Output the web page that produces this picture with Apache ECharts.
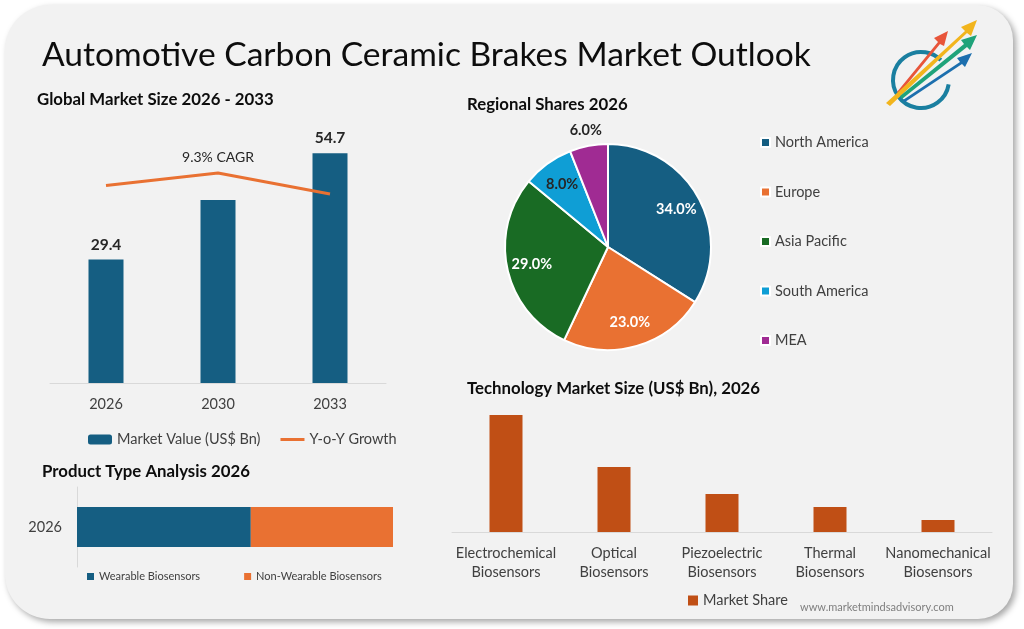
<!DOCTYPE html>
<html>
<head>
<meta charset="utf-8">
<script src="https://cdn.jsdelivr.net/npm/echarts@6/dist/echarts.min.js"></script>
<style>
html,body{margin:0;padding:0;background:#ffffff;}
#chart{width:1024px;height:629px;}
</style>
</head>
<body>
<div id="chart"></div>
<script>
// ---- Data ----
var marketYears = ['2026', '2030', '2033'];
var marketValues = [29.4, 43.6, 54.7];
var marketValueLabels = [true, false, true];
var yoyGrowth = [9.4, 10.0, 9.0];
var cagrText = '9.3% CAGR';

var regions = ['North America', 'Europe', 'Asia Pacific', 'South America', 'MEA'];
var regionShares = [34, 23, 29, 8, 6];
var regionColors = ['#155e82', '#e97132', '#196b24', '#0f9ed5', '#a02b93'];
var regionLabelColors = ['#ffffff', '#ffffff', '#ffffff', '#262626', '#262626'];
var regionOuterLabel = [false, false, false, false, true];

var productYear = ['2026'];
var productTypes = ['Wearable Biosensors', 'Non-Wearable Biosensors'];
var productShares = [55, 45];

var technologies = ['Electrochemical\nBiosensors', 'Optical\nBiosensors', 'Piezoelectric\nBiosensors', 'Thermal\nBiosensors', 'Nanomechanical\nBiosensors'];
var techValues = [11.7, 6.5, 3.8, 2.5, 1.2];

var FONT = 'Lato, "Open Sans", "Noto Sans", sans-serif';
var TXT = '#404040';

var chart = echarts.init(document.getElementById('chart'), null, {renderer: 'canvas'});

function pieLabelData(showFlags) {
  return regions.map(function (r, i) {
    return {
      name: r, value: regionShares[i],
      itemStyle: {color: 'rgba(0,0,0,0)'},
      label: {show: showFlags[i], color: regionLabelColors[i]}
    };
  });
}

function subTitle(text, left, top) {
  return {text: text, left: left, top: top, padding: 0,
    textStyle: {fontFamily: FONT, fontSize: 16.8, fontWeight: 'bold', color: '#0d0d0d'}};
}

var option = {
  backgroundColor: '#ffffff',
  textStyle: {fontFamily: FONT},
  graphic: [
    {type: 'rect', z: -10, shape: {x: 5, y: 5, width: 1008, height: 614, r: [45, 35, 35, 45]},
      style: {fill: '#f2f2f2', shadowBlur: 6, shadowColor: 'rgba(0,0,0,0.35)', shadowOffsetX: 3, shadowOffsetY: 3}},
    // logo
    {type: 'group', z: 5, children: [
      {type: 'arc', shape: {cx: 921, cy: 80, r: 28, startAngle: Math.PI * 0.05, endAngle: Math.PI * 1.75}, style: {stroke: '#1a7fa0', lineWidth: 4, fill: null}},
      {type: 'polygon', shape: {points: [[897, 92], [938, 42], [934, 38], [948, 31], [944, 46], [940, 44], [899, 94]]}, style: {fill: '#e8553a'}},
      {type: 'polygon', shape: {points: [[886, 103], [965, 31], [961, 27], [977, 20], [971, 36], [967, 33], [890, 106]]}, style: {fill: '#f2b51d'}},
      {type: 'polygon', shape: {points: [[900, 96], [964, 44], [961, 40], [977, 35], [970, 50], [967, 47], [902, 99]]}, style: {fill: '#1fa37a'}},
      {type: 'polygon', shape: {points: [[903, 100], [960, 62], [957, 58], [972, 53], [965, 67], [962, 64], [905, 102]]}, style: {fill: '#1c6fae'}}
    ]}
  ],
  title: [
    {text: 'Automotive Carbon Ceramic Brakes Market Outlook', left: 42, top: 38, padding: 0,
      textStyle: {fontFamily: FONT, fontSize: 33.6, fontWeight: 'normal', color: '#0d0d0d'}},
    subTitle('Global Market Size 2026 - 2033', 37, 91),
    subTitle('Regional Shares 2026', 467, 96),
    subTitle('Technology Market Size (US$ Bn), 2026', 467, 380),
    subTitle('Product Type Analysis 2026', 42, 463),
    {text: 'www.marketmindsadvisory.com', left: 800, top: 602, padding: 0,
      textStyle: {fontFamily: FONT, fontSize: 11, fontWeight: 'normal', color: '#7f7f7f'}}
  ],
  legend: [
    {data: ['Market Value (US$ Bn)', {name: 'Y-o-Y Growth', icon: 'path://M0,0h24v3h-24z'}], left: 88, top: 432, padding: 0,
      itemWidth: 24, itemHeight: 10, itemGap: 20, symbolKeepAspect: true,
      textStyle: {fontFamily: FONT, fontSize: 14.5, color: TXT}},
    {data: productTypes, left: 87, top: 571, padding: 0, itemWidth: 7, itemHeight: 7, itemGap: 44, icon: 'rect',
      textStyle: {fontFamily: FONT, fontSize: 11, color: TXT}},
    {data: regions, orient: 'vertical', left: 760, top: 135, padding: 0, itemWidth: 9, itemHeight: 9, itemGap: 34.5, icon: 'rect',
      textStyle: {fontFamily: FONT, fontSize: 14.5, color: TXT}},
    {data: ['Market Share'], left: 688, top: 593, padding: 0, itemWidth: 10, itemHeight: 10, icon: 'rect',
      textStyle: {fontFamily: FONT, fontSize: 14.5, color: TXT}}
  ],
  grid: [
    {left: 50, top: 131, width: 336, height: 252},
    {left: 77, top: 487, width: 316, height: 80},
    {left: 452, top: 402, width: 540, height: 130}
  ],
  xAxis: [
    {gridIndex: 0, type: 'category', data: marketYears,
      axisLine: {lineStyle: {color: '#d9d9d9', width: 1}}, axisTick: {show: false},
      axisLabel: {fontFamily: FONT, fontSize: 14.5, color: TXT, margin: 14}},
    {gridIndex: 1, type: 'value', min: 0, max: 100, show: false},
    {gridIndex: 2, type: 'category', data: technologies,
      axisLine: {lineStyle: {color: '#d9d9d9', width: 1}}, axisTick: {show: false},
      axisLabel: {fontFamily: FONT, fontSize: 14.5, color: TXT, margin: 12, lineHeight: 19, interval: 0}}
  ],
  yAxis: [
    {gridIndex: 0, type: 'value', min: 0, max: 60, show: false},
    {gridIndex: 0, type: 'value', min: 0, max: 12, show: false},
    {gridIndex: 1, type: 'category', data: productYear,
      axisLine: {lineStyle: {color: '#d9d9d9', width: 1}}, axisTick: {show: false},
      axisLabel: {fontFamily: FONT, fontSize: 14.5, color: TXT, margin: 15}},
    {gridIndex: 2, type: 'value', min: 0, max: 13, show: false}
  ],
  series: [
    {name: 'Market Value (US$ Bn)', type: 'bar', xAxisIndex: 0, yAxisIndex: 0, barWidth: 35,
      itemStyle: {color: '#155e82'},
      data: marketValues.map(function (v, i) {
        return {value: v, label: {show: marketValueLabels[i]}};
      }),
      label: {position: 'top', distance: 7, fontFamily: FONT, fontSize: 15.5, fontWeight: 'bold', color: '#262626'}},
    {name: 'Y-o-Y Growth', type: 'line', xAxisIndex: 0, yAxisIndex: 1, symbol: 'circle', symbolSize: 0.1,
      lineStyle: {color: '#e97132', width: 3}, itemStyle: {color: '#e97132'},
      data: yoyGrowth.map(function (v, i) {
        return {value: v, label: {show: i === 1}};
      }),
      label: {position: 'top', distance: 8, formatter: function () { return cagrText; },
        fontFamily: FONT, fontSize: 14, color: '#262626'}},
    {name: productTypes[0], type: 'bar', stack: 'p', xAxisIndex: 1, yAxisIndex: 2, barWidth: 40,
      itemStyle: {color: '#155e82'}, data: [productShares[0]]},
    {name: productTypes[1], type: 'bar', stack: 'p', xAxisIndex: 1, yAxisIndex: 2, barWidth: 40,
      itemStyle: {color: '#e97132'}, data: [productShares[1]]},
    {name: 'Market Share', type: 'bar', xAxisIndex: 2, yAxisIndex: 3, barWidth: 33,
      itemStyle: {color: '#c04f15'}, data: techValues},
    {name: 'Regions', type: 'pie', center: [608, 247], radius: [0, 103], startAngle: 90, clockwise: true,
      label: {show: false}, labelLine: {show: false},
      itemStyle: {borderColor: '#ffffff', borderWidth: 2},
      data: regions.map(function (r, i) {
        return {name: r, value: regionShares[i], itemStyle: {color: regionColors[i]}};
      })},
    {name: 'RegionLabelsInner', type: 'pie', center: [608, 247], radius: [0, 150], startAngle: 90, clockwise: true,
      silent: true, legendHoverLink: false,
      label: {position: 'inside', fontFamily: FONT, fontSize: 14.5, fontWeight: 'bold',
        formatter: function (p) { return p.value.toFixed(1) + '%'; }},
      labelLine: {show: false},
      data: pieLabelData(regionOuterLabel.map(function (o) { return !o; }))},
    {name: 'RegionLabelsOuter', type: 'pie', center: [608, 247], radius: [0, 232], startAngle: 90, clockwise: true,
      silent: true, legendHoverLink: false,
      label: {position: 'inside', fontFamily: FONT, fontSize: 14.5, fontWeight: 'bold',
        formatter: function (p) { return p.value.toFixed(1) + '%'; }},
      labelLine: {show: false},
      data: pieLabelData(regionOuterLabel)}
  ]
};
chart.setOption(option);
</script>
</body>
</html>
